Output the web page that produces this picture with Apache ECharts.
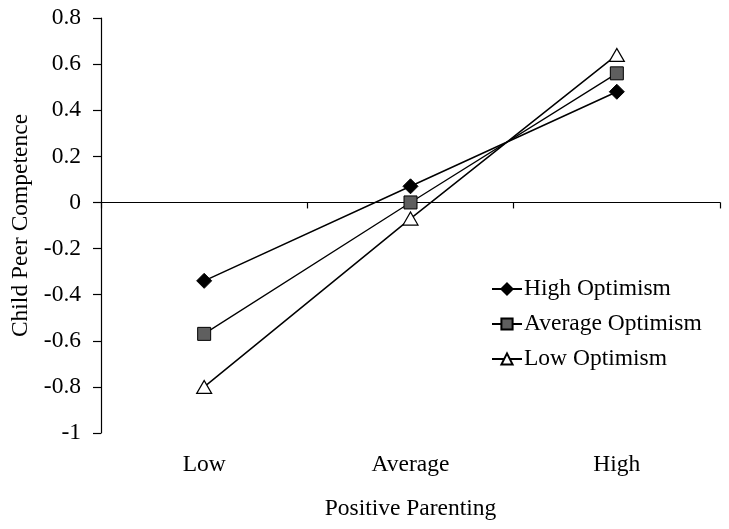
<!DOCTYPE html>
<html>
<head>
<meta charset="utf-8">
<script src="https://cdn.jsdelivr.net/npm/echarts@6/dist/echarts.min.js"></script>
<style>
html,body{margin:0;padding:0;background:#fff;}
#chart{width:729px;height:529px;}
</style>
</head>
<body>
<div id="chart"></div>
<script>
var categories = ['Low', 'Average', 'High'];
var highOptimism = [-0.34, 0.07, 0.48];
var averageOptimism = [-0.57, 0.00, 0.56];
var lowOptimism = [-0.80, -0.07, 0.64];
var seriesNames = ['High Optimism', 'Average Optimism', 'Low Optimism'];
var yMin = -1, yMax = 0.8, yStep = 0.2;

var FONT = 'Liberation Serif';
var FS = 23.5;
var chart = echarts.init(document.getElementById('chart'));
chart.setOption({
  animation: false,
  textStyle: { fontFamily: FONT, color: '#000' },
  grid: { left: 101, right: 9, top: 18, bottom: 96 },
  legend: {
    orient: 'vertical',
    left: 486,
    top: 272,
    itemWidth: 30,
    itemHeight: 14,
    itemGap: 11,
    textStyle: { fontFamily: FONT, fontSize: FS, color: '#000', padding: [0, 0, 0, -3] },
    data: seriesNames
  },
  xAxis: [
    {
      type: 'category',
      data: categories,
      boundaryGap: true,
      axisLine: { onZero: true, lineStyle: { color: '#000', width: 1.2 } },
      axisTick: { show: true, length: 6, alignWithLabel: false, lineStyle: { color: '#000', width: 1.2 } },
      axisLabel: { show: false },
      splitLine: { show: false }
    },
    {
      type: 'category',
      data: categories,
      position: 'bottom',
      boundaryGap: true,
      axisLine: { show: false, onZero: false },
      axisTick: { show: false },
      axisLabel: { show: true, margin: 20, fontFamily: FONT, fontSize: FS, color: '#000' },
      name: 'Positive Parenting',
      nameLocation: 'middle',
      nameGap: 64,
      nameTextStyle: { fontFamily: FONT, fontSize: FS, color: '#000' }
    }
  ],
  yAxis: {
    type: 'value',
    min: yMin,
    max: yMax,
    interval: yStep,
    axisLine: { show: true, lineStyle: { color: '#000', width: 1.2 } },
    axisTick: { show: true, length: 8, lineStyle: { color: '#000', width: 1.2 } },
    axisLabel: {
      margin: 20,
      fontFamily: FONT, fontSize: FS, color: '#000',
      formatter: function (v) { return String(Math.round(v * 10) / 10); }
    },
    splitLine: { show: false },
    name: 'Child Peer Competence',
    nameLocation: 'middle',
    nameGap: 66,
    nameTextStyle: { fontFamily: FONT, fontSize: FS, color: '#000' }
  },
  series: [
    {
      name: seriesNames[0], type: 'line', data: highOptimism,
      symbol: 'diamond', symbolSize: 15,
      lineStyle: { color: '#000', width: 1.5 },
      itemStyle: { color: '#000', borderColor: '#000', borderWidth: 1 },
      z: 3
    },
    {
      name: seriesNames[1], type: 'line', data: averageOptimism,
      symbol: 'rect', symbolSize: 13,
      lineStyle: { color: '#000', width: 1.3 },
      itemStyle: { color: '#5f5f5f', borderColor: '#000', borderWidth: 1 },
      z: 3
    },
    {
      name: seriesNames[2], type: 'line', data: lowOptimism,
      symbol: 'triangle', symbolSize: [15, 13],
      lineStyle: { color: '#000', width: 1.5 },
      itemStyle: { color: '#fff', borderColor: '#000', borderWidth: 1.2 },
      z: 3
    }
  ]
});
</script>
</body>
</html>
